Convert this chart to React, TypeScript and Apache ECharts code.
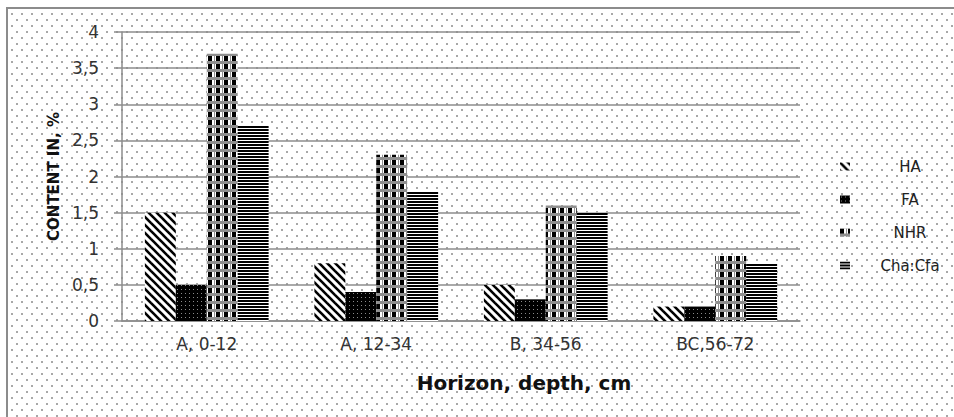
import React, { useEffect, useRef } from 'react';
import * as echarts from 'echarts';

// Soil humus fractions by horizon
const categories = ['A, 0-12', 'A, 12-34', 'B, 34-56', 'BC,56-72'];
const seriesNames = ['HA', 'FA', 'NHR', 'Cha:Cfa'];
const haValues = [1.5, 0.8, 0.5, 0.2];
const faValues = [0.5, 0.4, 0.3, 0.2];
const nhrValues = [3.7, 2.3, 1.6, 0.9];
const chaCfaValues = [2.7, 1.8, 1.5, 0.8];
const yTickLabels = ['0', '0,5', '1', '1,5', '2', '2,5', '3', '3,5', '4'];

type Draw = (ctx: CanvasRenderingContext2D, w: number, h: number) => void;

function tile(w: number, h: number, draw: Draw) {
  const c = document.createElement('canvas');
  c.width = w;
  c.height = h;
  const ctx = c.getContext('2d') as CanvasRenderingContext2D;
  draw(ctx, w, h);
  return { image: c.toDataURL(), repeat: 'repeat', imageWidth: w, imageHeight: h };
}

function makePatterns() {
  const dots = tile(10, 12, (ctx, w, h) => {
    ctx.fillStyle = '#ffffff';
    ctx.fillRect(0, 0, w, h);
    ctx.fillStyle = '#a8a8a8';
    ctx.fillRect(1, 1, 2, 2);
    ctx.fillRect(6, 7, 2, 2);
  });
  const diag = tile(8, 8, (ctx, w, h) => {
    ctx.fillStyle = '#ffffff';
    ctx.fillRect(0, 0, w, h);
    ctx.strokeStyle = '#000000';
    ctx.lineWidth = 2.6;
    for (const k of [-8, 0, 8]) {
      ctx.beginPath();
      ctx.moveTo(k - 1, -1);
      ctx.lineTo(k + 9, 9);
      ctx.stroke();
    }
  });
  const darkDots = tile(4, 4, (ctx, w, h) => {
    ctx.fillStyle = '#000000';
    ctx.fillRect(0, 0, w, h);
    ctx.fillStyle = '#8a8a8a';
    ctx.fillRect(1, 1, 1, 1);
  });
  // black squares on white crossed by grey bands
  const plaid = tile(8, 8, (ctx, w, h) => {
    ctx.fillStyle = '#ffffff';
    ctx.fillRect(0, 0, w, h);
    ctx.fillStyle = '#000000';
    ctx.fillRect(0, 0, 4, 5);
    ctx.fillStyle = '#8f8f8f';
    ctx.fillRect(0, 5, 8, 3);
    ctx.fillRect(6, 0, 1, 5);
  });
  const hstripes = tile(4, 3, (ctx, w, h) => {
    ctx.fillStyle = '#ffffff';
    ctx.fillRect(0, 0, w, h);
    ctx.fillStyle = '#000000';
    ctx.fillRect(0, 0, w, 2);
  });
  return { dots, diag, darkDots, plaid, hstripes };
}

export default function App() {
  const ref = useRef<HTMLDivElement>(null);

  useEffect(() => {
    if (!ref.current) return;
    const chart = echarts.init(ref.current, undefined, { renderer: 'svg' });
    const p = makePatterns();
    const axisGray = '#8c8c8c';
    const fills = [p.diag, p.darkDots, p.plaid, p.hstripes];
    const values = [haValues, faValues, nhrValues, chaCfaValues];

    chart.setOption({
      animation: false,
      backgroundColor: '#ffffff',
      textStyle: { fontFamily: 'DejaVu Sans' },
      graphic: [
        {
          type: 'rect',
          z: -10,
          silent: true,
          shape: { x: 7, y: 8, width: 960, height: 420 },
          style: { fill: p.dots, stroke: axisGray, lineWidth: 2 },
        },
      ],
      grid: { left: 122, top: 32, right: 154, bottom: 96 },
      legend: {
        orient: 'vertical',
        left: 835,
        top: 154,
        icon: 'rect',
        itemWidth: 10,
        itemHeight: 8,
        itemGap: 18,
        data: seriesNames,
        formatter: '{t|{name}}',
        textStyle: {
          rich: {
            t: {
              width: 110,
              align: 'center',
              fontSize: 15,
              lineHeight: 15,
              color: '#222222',
              fontFamily: 'DejaVu Sans',
            },
          },
        },
      },
      xAxis: {
        type: 'category',
        data: categories,
        axisLine: { lineStyle: { color: axisGray, width: 1.5 } },
        axisTick: { show: false },
        axisLabel: { fontSize: 17, color: '#333333', margin: 14 },
        name: 'Horizon, depth, cm',
        nameLocation: 'middle',
        nameGap: 52,
        nameTextStyle: {
          fontSize: 20,
          fontWeight: 'bold',
          color: '#111111',
          padding: [0, 0, 0, 126],
        },
      },
      yAxis: {
        type: 'value',
        min: 0,
        max: 4,
        interval: 0.5,
        axisLine: { show: true, lineStyle: { color: axisGray, width: 1.5 } },
        axisTick: { show: true, length: 8, lineStyle: { color: axisGray, width: 1.5 } },
        splitLine: { lineStyle: { color: axisGray, width: 1.5 } },
        axisLabel: {
          fontSize: 17,
          color: '#333333',
          margin: 23,
          formatter: (v: number) => yTickLabels[Math.round(v / 0.5)] ?? String(v),
        },
        name: 'CONTENT IN, %',
        nameLocation: 'middle',
        nameGap: 60,
        nameTextStyle: { fontSize: 15, fontWeight: 'bold', color: '#111111' },
      },
      series: seriesNames.map((name, i) => ({
        name,
        type: 'bar',
        data: values[i],
        barGap: '0%',
        barCategoryGap: '27%',
        itemStyle: { color: fills[i] },
      })),
    });

    return () => chart.dispose();
  }, []);

  return (
    <div
      ref={ref}
      style={{ position: 'fixed', left: 0, top: 0, width: 954, height: 417 }}
    />
  );
}
